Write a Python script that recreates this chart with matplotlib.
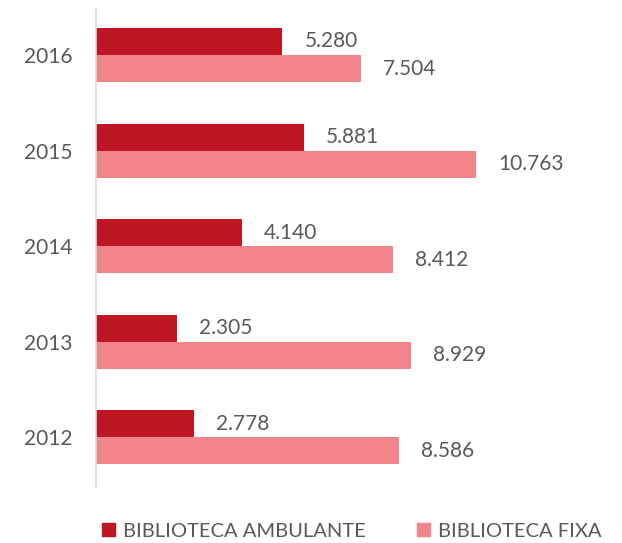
import numpy as np
import matplotlib.pyplot as plt
from matplotlib.patches import Patch

years = ['2012', '2013', '2014', '2015', '2016']
ambulante = [2778, 2305, 4140, 5881, 5280]
fixa = [8586, 8929, 8412, 10763, 7504]
labels_amb = ['2.778', '2.305', '4.140', '5.881', '5.280']
labels_fixa = ['8.586', '8.929', '8.412', '10.763', '7.504']

dark = '#BE1622'
pink = '#F2848B'
gray = '#595959'

plt.rcParams['font.family'] = ['Lato', 'DejaVu Sans']

fig = plt.figure(figsize=(6.22, 5.43), dpi=100)
ax = fig.add_axes([0.154, 0.103, 0.81, 0.882])

y = np.arange(len(years))
h = 0.283
ax.barh(y + h / 2, ambulante, height=h, color=dark)
ax.barh(y - h / 2, fixa, height=h, color=pink)

# value labels next to each bar
for yi, v, lab in zip(y, ambulante, labels_amb):
    ax.text(v + 620, yi + h / 2, lab, va='center', ha='left', fontsize=15, color=gray)
for yi, v, lab in zip(y, fixa, labels_fixa):
    ax.text(v + 620, yi - h / 2, lab, va='center', ha='left', fontsize=15, color=gray)

ax.set_xlim(0, 14250)
ax.set_ylim(-0.52, 4.49)
ax.set_yticks(y)
ax.set_yticklabels(years, fontsize=15, color=gray)
ax.tick_params(axis='y', length=0, pad=17)
ax.set_xticks([])
for s in ['top', 'right', 'bottom']:
    ax.spines[s].set_visible(False)
ax.spines['left'].set_color('#D9D9D9')
ax.spines['left'].set_linewidth(1.2)

handles = [Patch(color=dark, label='BIBLIOTECA AMBULANTE'),
           Patch(color=pink, label='BIBLIOTECA FIXA')]
fig.legend(handles=handles, loc='center', bbox_to_anchor=(0.566, 0.022), ncol=2,
           frameon=False, fontsize=14.5, labelcolor=gray, handlelength=0.65,
           handleheight=0.65, handletextpad=0.4, columnspacing=2.55)

fig.savefig('out.png', dpi=100)
